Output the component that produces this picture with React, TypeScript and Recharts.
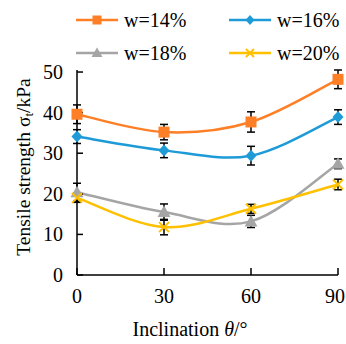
import React from 'react';
import { LineChart, Line, XAxis, YAxis, ErrorBar } from 'recharts';

// inclination angle (deg) and tensile strength (kPa) per water content
const ANGLES = [0, 30, 60, 90];
const W14 = [39.6, 35.2, 37.7, 48.2];
const W16 = [34.1, 30.7, 29.4, 38.9];
const W18 = [20.4, 15.5, 13.2, 27.4];
const W20 = [19.0, 11.8, 16.3, 22.3];
const ERR14 = [2.3, 1.9, 2.5, 2.3];
const ERR16 = [1.7, 1.8, 2.3, 1.8];
const ERR18 = [2.2, 2.0, 1.5, 1.2];
const ERR20 = [1.1, 1.9, 1.1, 1.3];
const Y_TICKS = [0, 10, 20, 30, 40, 50];

const FONT = '"Liberation Serif", "Times New Roman", serif';

const SERIES = [
  { key: 'w14', err: 'e14', name: 'w=14%', color: '#FF7F27', marker: 'square' },
  { key: 'w16', err: 'e16', name: 'w=16%', color: '#1E9BD7', marker: 'diamond' },
  { key: 'w18', err: 'e18', name: 'w=18%', color: '#A5A5A5', marker: 'triangle' },
  { key: 'w20', err: 'e20', name: 'w=20%', color: '#FFC000', marker: 'cross' },
];

const data = ANGLES.map((a, i) => ({
  angle: a,
  w14: W14[i], e14: ERR14[i],
  w16: W16[i], e16: ERR16[i],
  w18: W18[i], e18: ERR18[i],
  w20: W20[i], e20: ERR20[i],
}));

// Excel-style smoothed line (Catmull-Rom through the points)
const excelCurve = (context: any) => {
  let pts: number[][] = [];
  return {
    areaStart() {},
    areaEnd() {},
    lineStart() { pts = []; },
    point(x: number, y: number) { pts.push([x, y]); },
    lineEnd() {
      if (!pts.length) return;
      context.moveTo(pts[0][0], pts[0][1]);
      for (let i = 0; i < pts.length - 1; i++) {
        const p0 = pts[Math.max(0, i - 1)];
        const p1 = pts[i];
        const p2 = pts[i + 1];
        const p3 = pts[Math.min(pts.length - 1, i + 2)];
        context.bezierCurveTo(
          p1[0] + (p2[0] - p0[0]) / 6, p1[1] + (p2[1] - p0[1]) / 6,
          p2[0] - (p3[0] - p1[0]) / 6, p2[1] - (p3[1] - p1[1]) / 6,
          p2[0], p2[1],
        );
      }
    },
  };
};

function Marker({ type, cx, cy, color, r = 5.5 }: { type: string; cx: number; cy: number; color: string; r?: number }) {
  if (type === 'square') return <rect x={cx - r} y={cy - r} width={2 * r} height={2 * r} fill={color} />;
  if (type === 'diamond')
    return <polygon points={`${cx},${cy - r - 0.5} ${cx + r},${cy} ${cx},${cy + r + 0.5} ${cx - r},${cy}`} fill={color} />;
  if (type === 'triangle')
    return <polygon points={`${cx},${cy - r - 1} ${cx + r + 1},${cy + r - 0.5} ${cx - r - 1},${cy + r - 0.5}`} fill={color} />;
  return (
    <g stroke={color} strokeWidth={2}>
      <line x1={cx - r + 0.5} y1={cy - r + 0.5} x2={cx + r - 0.5} y2={cy + r - 0.5} />
      <line x1={cx - r + 0.5} y1={cy + r - 0.5} x2={cx + r - 0.5} y2={cy - r + 0.5} />
    </g>
  );
}

function LegendItem({ s, left, top }: { s: (typeof SERIES)[number]; left: number; top: number }) {
  return (
    <div style={{ position: 'absolute', left, top, display: 'flex', alignItems: 'center', height: 24 }}>
      <svg width={42} height={24}>
        <line x1={0} y1={12} x2={42} y2={12} stroke={s.color} strokeWidth={2.5} />
        <Marker type={s.marker} cx={21} cy={12} color={s.color} r={4.5} />
      </svg>
      <span style={{ marginLeft: 6, fontFamily: FONT, fontSize: 20, color: '#000', lineHeight: '24px' }}>{s.name}</span>
    </div>
  );
}

const TEXT_STYLE = { fontFamily: FONT, fill: '#000' };

// last label sits against the right edge, keep it inside the picture
const XTick = ({ x, y, payload }: any) => (
  <text x={Math.min(x, 335)} y={y} dy={15} textAnchor="middle" style={{ ...TEXT_STYLE, fontSize: 20 }}>{payload.value}</text>
);

const YTick = ({ x, y, payload }: any) => (
  <text x={x} y={y} dy={7} textAnchor="end" style={{ ...TEXT_STYLE, fontSize: 20 }}>{payload.value}</text>
);

const YLabel = () => (
  <text x={23} y={167} transform="rotate(-90 23 167)" textAnchor="middle" dominantBaseline="central"
    style={{ ...TEXT_STYLE, fontSize: 19.5 }}>
    Tensile strength σ<tspan fontSize={13} dy={5}>t</tspan><tspan dy={-5}>/kPa</tspan>
  </text>
);

const XLabel = () => (
  <text x={190} y={336} textAnchor="middle" style={{ ...TEXT_STYLE, fontSize: 20 }}>
    Inclination <tspan fontStyle="italic">θ</tspan>/°
  </text>
);

export default function App() {
  return (
    <div style={{ position: 'absolute', left: 0, top: 0, width: 346, height: 344, background: '#fff' }}>
      <LegendItem s={SERIES[0]} left={76} top={8} />
      <LegendItem s={SERIES[1]} left={229} top={8} />
      <LegendItem s={SERIES[2]} left={76} top={41} />
      <LegendItem s={SERIES[3]} left={229} top={41} />
      <LineChart width={346} height={344} data={data} margin={{ top: 70, right: 8, bottom: 0, left: 0 }}
        style={{ position: 'absolute', left: 0, top: 0 }}>
        <XAxis dataKey="angle" type="number" domain={[0, 90]} ticks={ANGLES} height={69}
          axisLine={{ stroke: '#000', strokeWidth: 1.5 }} tickLine={{ stroke: '#000', strokeWidth: 1.5 }}
          tickSize={-7} tickMargin={20}
          tick={<XTick />} label={<XLabel />} />
        <YAxis type="number" domain={[0, 50]} ticks={Y_TICKS} width={77}
          axisLine={{ stroke: '#000', strokeWidth: 1.5 }} tickLine={{ stroke: '#000', strokeWidth: 1.5 }}
          tickSize={-6} tickMargin={20}
          tick={<YTick />} label={<YLabel />} />
        {SERIES.map(s => (
          <Line key={s.key} dataKey={s.key} name={s.name} type={excelCurve as any} stroke={s.color} strokeWidth={2.5}
            isAnimationActive={false}
            dot={(p: any) => <Marker key={`${s.key}-${p.index}`} type={s.marker} cx={p.cx} cy={p.cy} color={s.color} />}
            activeDot={false}>
            <ErrorBar dataKey={s.err} direction="y" width={4} stroke="#000" strokeWidth={1.5} isAnimationActive={false} />
          </Line>
        ))}
      </LineChart>
    </div>
  );
}
